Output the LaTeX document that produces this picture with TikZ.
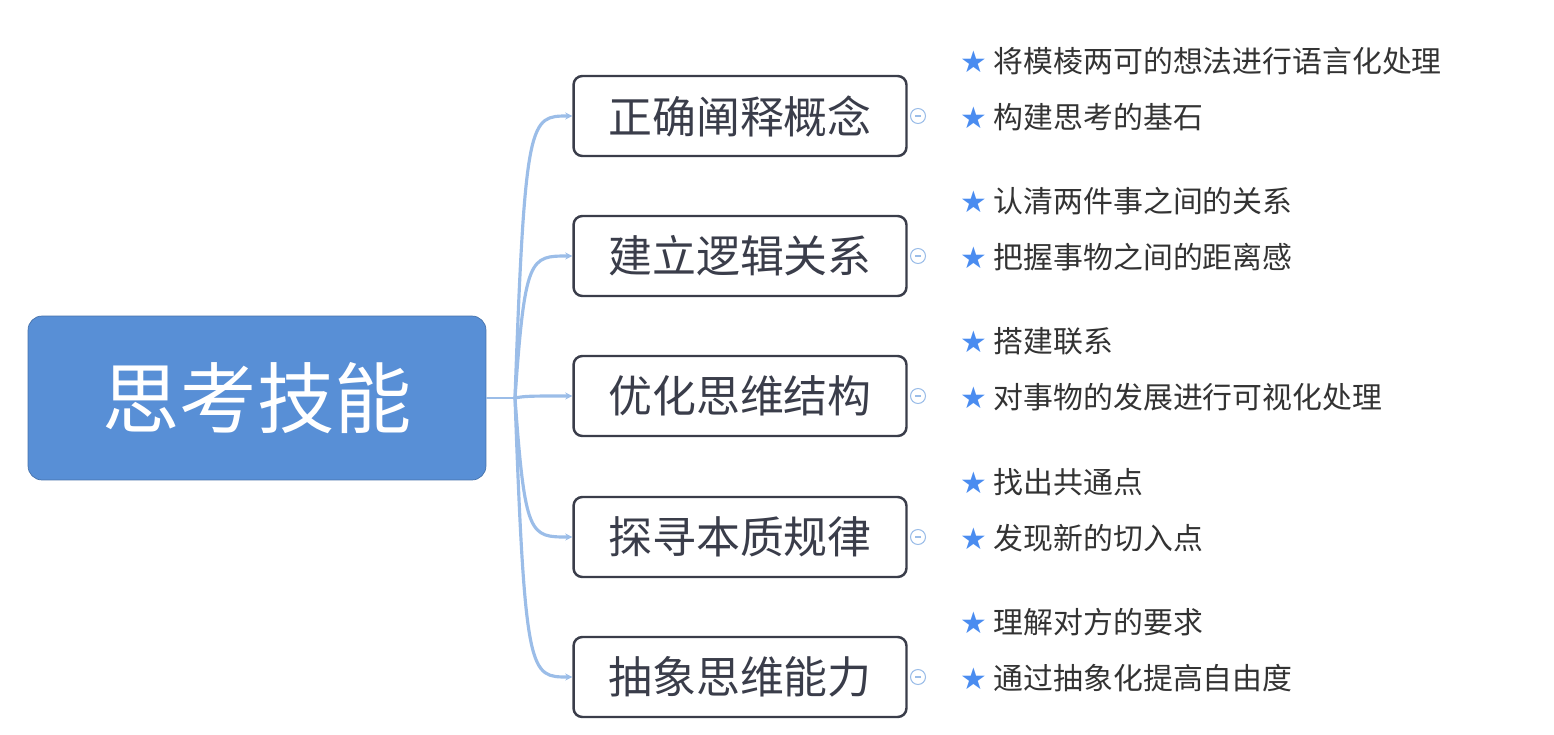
\documentclass[tikz,border=0pt]{standalone}
\usepackage{fontspec}
\newfontfamily\cjk{Noto Sans CJK SC}
\newfontfamily\symb{DejaVu Sans}
\usetikzlibrary{arrows.meta}
\definecolor{rootblue}{HTML}{588FD6}
\definecolor{linkblue}{HTML}{9BBDE8}
\definecolor{starblue}{HTML}{4A8CF0}
\definecolor{boxline}{HTML}{3A3D4A}
\begin{document}
\begin{tikzpicture}[x=0.02cm,y=-0.02cm,
  root/.style={draw=rootblue!80!black,fill=rootblue,rounded corners=8pt,minimum width=9.16cm,minimum height=3.28cm,text=white,font=\cjk\fontsize{44}{48}\selectfont},
  topic/.style={draw=boxline,line width=1.4pt,rounded corners=5pt,fill=white,minimum width=6.66cm,minimum height=1.6cm,text=boxline,font=\cjk\fontsize{25}{28}\selectfont},
  leaf/.style={anchor=west,inner sep=0pt,text=black!80,font=\cjk\fontsize{17}{20}\selectfont},
  link/.style={draw=linkblue,line width=1.8pt,-{Stealth[length=4pt,width=4pt]}},
  fold/.style={circle,draw=linkblue,line width=0.6pt,minimum size=0.3cm,inner sep=0pt,path picture={\draw[linkblue,line width=0.6pt] ([xshift=-1.5pt]path picture bounding box.center)--([xshift=1.5pt]path picture bounding box.center);}}]
\useasboundingbox (0,0) rectangle (1554,734);
\node[root] (skill) at (257,398) {思考技能};
\coordinate (trunk) at (515,398);
\draw[linkblue,line width=1.2pt] (skill.east) -- (trunk);
\foreach \i/\y/\t/\a/\b in {1/116/正确阐释概念/将模棱两可的想法进行语言化处理/构建思考的基石,
  2/256/建立逻辑关系/认清两件事之间的关系/把握事物之间的距离感,
  3/396/优化思维结构/搭建联系/对事物的发展进行可视化处理,
  4/537/探寻本质规律/找出共通点/发现新的切入点,
  5/677/抽象思维能力/理解对方的要求/通过抽象化提高自由度}{
  \node[topic] (t\i) at (740,\y) {\t};
  \draw[link] (trunk) .. controls (525,\y) and (530,\y) .. (t\i.west);
  \node[fold] (f\i) at (918,\y) {};
  \node[leaf] (a\i) at (960,\y-55) {{\symb\color{starblue}★} \a};
  \node[leaf] (b\i) at (960,\y+1) {{\symb\color{starblue}★} \b};
}
\end{tikzpicture}
\end{document}
